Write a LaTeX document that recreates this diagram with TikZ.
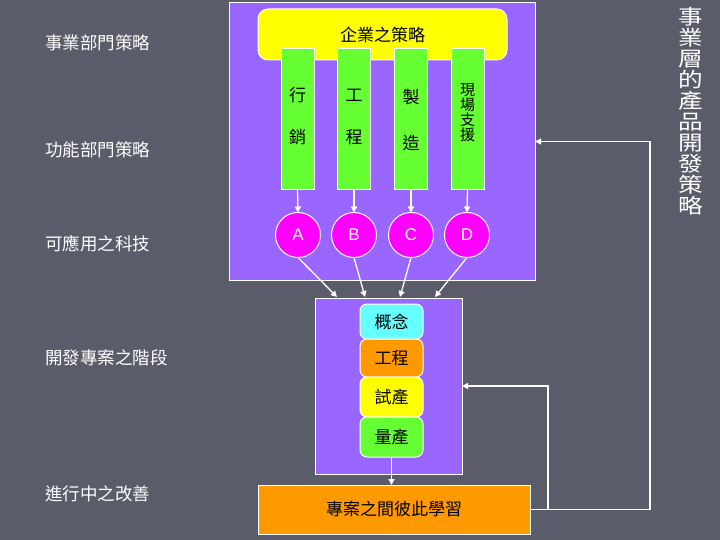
\documentclass[tikz,border=0pt]{standalone}
\usepackage{fontspec}
\setmainfont{Noto Sans CJK TC}
\newfontfamily\latinfont{Liberation Sans}
\usetikzlibrary{arrows.meta}
\definecolor{bg}{RGB}{90,92,106}
\definecolor{purp}{RGB}{153,102,255}
\definecolor{grn}{RGB}{102,255,51}
\definecolor{yel}{RGB}{255,255,0}
\definecolor{mag}{RGB}{255,0,255}
\definecolor{cyn}{RGB}{102,255,255}
\definecolor{org}{RGB}{255,153,0}
\tikzset{
  shp/.style={draw=white, line width=1pt, inner sep=0pt, outer sep=0pt},
  pbox/.style={shp, fill=purp},
  bar/.style={shp, fill=grn, minimum width=33, minimum height=141},
  circ/.style={shp, circle, fill=mag, minimum size=45, font=\latinfont\fontsize{17}{17}\selectfont, text=white},
  stage/.style={shp, rounded corners=7pt, minimum width=63, font=\fontsize{17}{17}\selectfont},
  lbl/.style={inner sep=0pt, text=white, anchor=west, font=\fontsize{17.5}{17.5}\selectfont},
  btxt/.style={inner sep=0pt, font=\fontsize{17}{17}\selectfont},
  conn/.style={draw=white, line width=1.3pt, -{Triangle[length=6pt,width=6pt]}},
  wline/.style={draw=white, line width=1.3pt}
}
\begin{document}
\begin{tikzpicture}[x=1pt,y=-1pt]
\fill[bg] (0,0) rectangle (720,540);
\useasboundingbox (0,0) rectangle (720,540);

% left labels
\node[lbl] (l1) at (45,43) {事業部門策略};
\node[lbl] (l2) at (45,150) {功能部門策略};
\node[lbl] (l3) at (45,244) {可應用之科技};
\node[lbl] (l4) at (45,358) {開發專案之階段};
\node[lbl] (l5) at (45,494) {進行中之改善};

% right vertical label
\node[inner sep=0pt, text=white, align=center, xscale=1.2, font=\fontsize{20.5}{21}\selectfont] (rt) at (691,111) {事\\業\\層\\的\\產\\品\\開\\發\\策\\略};

% top purple box
\node[pbox, minimum width=306, minimum height=277] (topbox) at (382,141.5) {};
\node[shp, fill=yel, rounded corners=10pt, minimum width=249, minimum height=51] (corp) at (382.5,34.5) {};
\node[btxt] (corpt) at (382.5,35) {企業之策略};

% bars
\node[bar] (b1) at (297.5,119.5) {};
\node[bar] (b2) at (354,119.5) {};
\node[bar] (b3) at (411,119.5) {};
\node[bar] (b4) at (467.5,119.5) {};
\node[btxt] (t1a) at (297.5,95) {行};
\node[btxt] (t1b) at (297.5,137) {銷};
\node[btxt] (t2a) at (354,95) {工};
\node[btxt] (t2b) at (354,137) {程};
\node[btxt] (t3a) at (411,97) {製};
\node[btxt] (t3b) at (411,143) {造};
\node[inner sep=0pt, align=center, font=\fontsize{15}{13.5}\selectfont] (t4) at (467.5,112.5) {現\\場\\支\\援};

% circles
\node[circ] (A) at (298,235) {A};
\node[circ] (B) at (354,235) {B};
\node[circ] (C) at (411,235) {C};
\node[circ] (D) at (467,235) {D};
\draw[conn] (b1.south) -- (A.north);
\draw[conn] (b2.south) -- (B.north);
\draw[conn] (b3.south) -- (C.north);
\draw[conn] (b4.south) -- (D.north);

% lower purple box
\node[pbox, minimum width=147, minimum height=176] (low) at (388.5,386) {};
\coordinate (inA) at (337,297);
\coordinate (inB) at (365,297);
\coordinate (inC) at (400,297);
\coordinate (inD) at (435,297);
\draw[conn] (A.south) -- (inA);
\draw[conn] (B.south) -- (inB);
\draw[conn] (C.south) -- (inC);
\draw[conn] (D.south) -- (inD);

% stages
\node[stage, fill=cyn, minimum height=35] (s1) at (391.5,321.5) {概念};
\node[stage, fill=org, minimum height=38] (s2) at (391.5,358) {工程};
\node[stage, fill=yel, minimum height=40] (s3) at (391.5,397) {試產};
\node[stage, fill=grn, minimum height=40] (s4) at (391.5,437) {量產};

% bottom learning box
\node[shp, fill=org, minimum width=272, minimum height=49, font=\fontsize{17}{17}\selectfont] (learn) at (394,509.5) {專案之間彼此學習};
\draw[conn] (s4.south) -- (s4.south |- learn.north);

% feedback lines
\coordinate (f1) at (650,509.5);
\coordinate (f2) at (548,509.5);
\draw[wline] (learn.east) -- (f1);
\draw[conn] (f1) |- (topbox.east);
\draw[conn] (f2) |- (low.east);
\end{tikzpicture}
\end{document}
